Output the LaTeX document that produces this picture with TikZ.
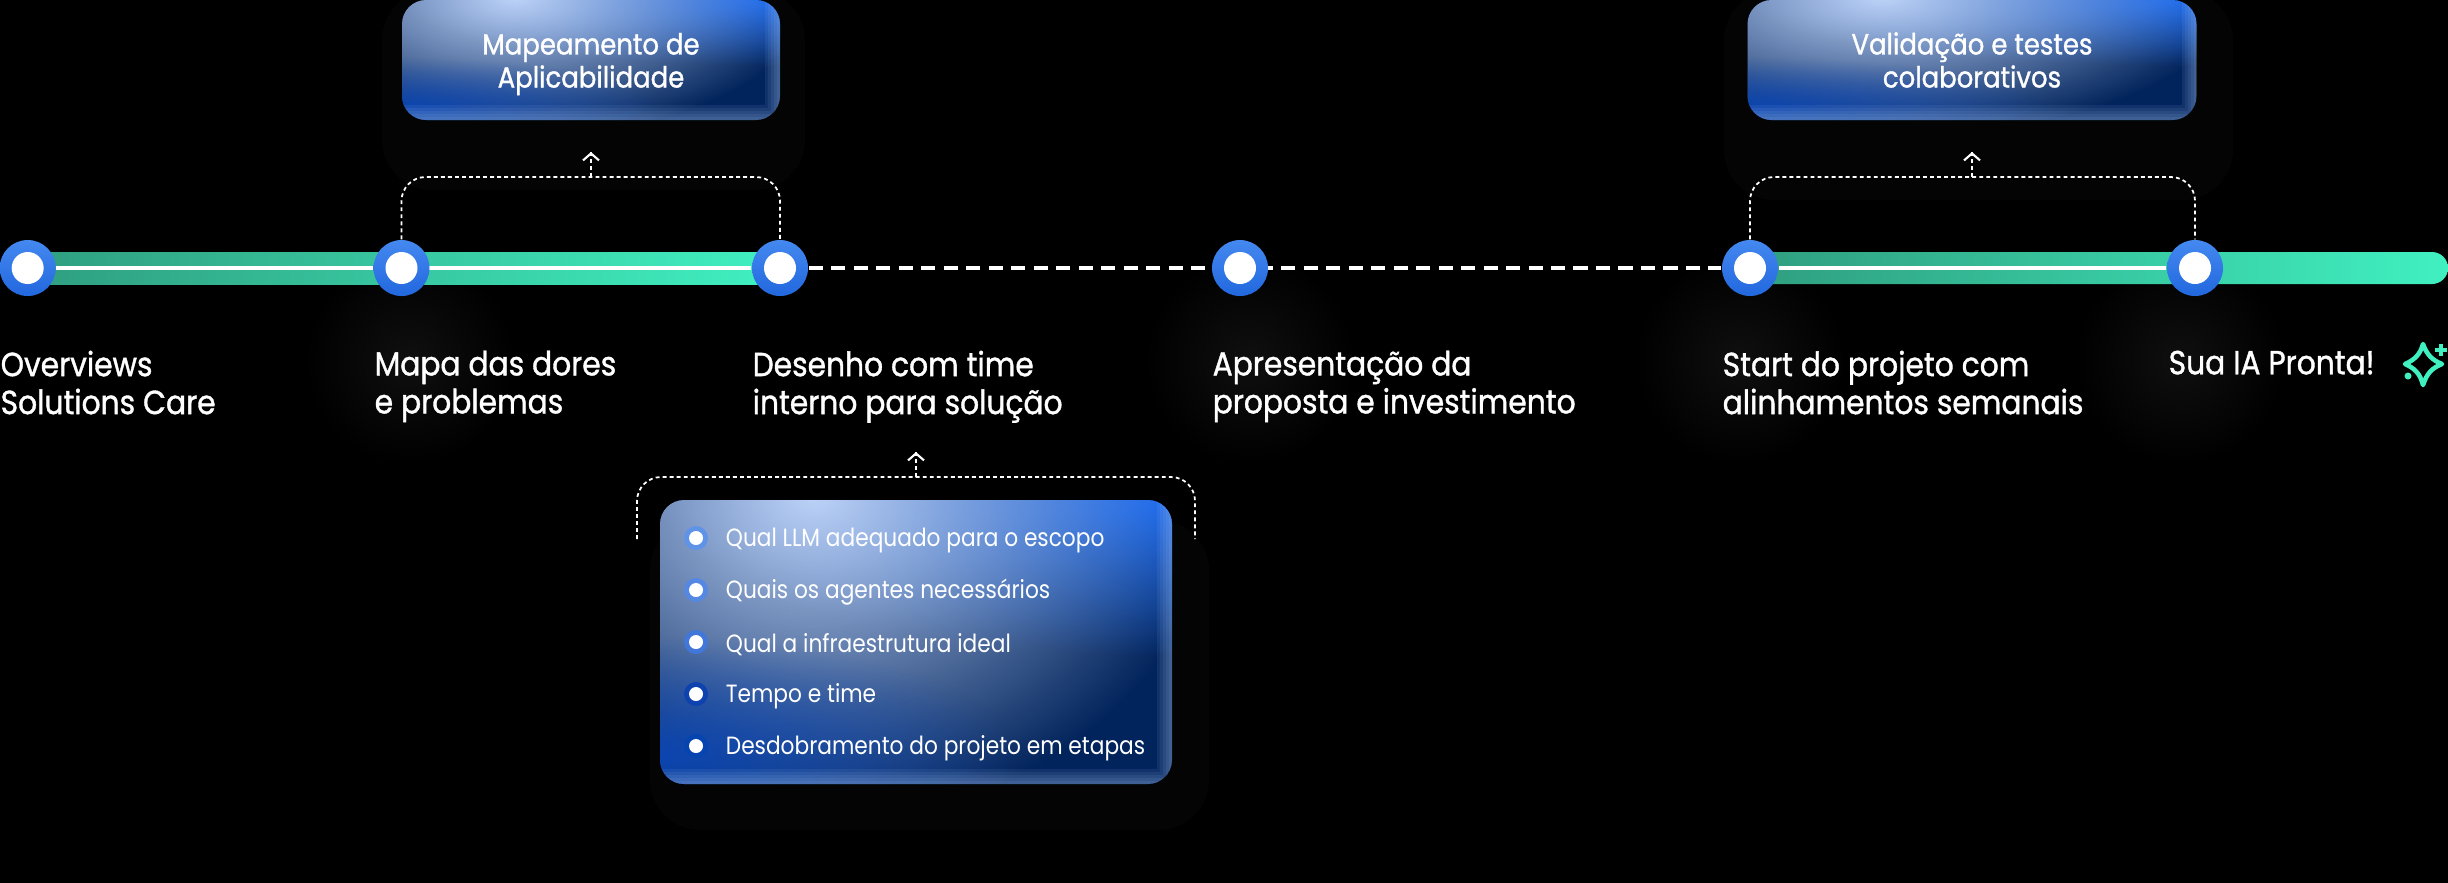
\documentclass[tikz,border=0pt]{standalone}
\usepackage{fontspec}
\setmainfont{Poppins}[FakeStretch=.87]
\newfontfamily\labelfont{Poppins}[FakeStretch=.89,FakeBold=1.1]
\usetikzlibrary{positioning,calc,arrows.meta,backgrounds,fadings}

\definecolor{navy}{HTML}{02245C}
\definecolor{skyblue}{HTML}{0A5FEE}
\definecolor{lowblue}{HTML}{0A48BC}
\definecolor{glasslight}{HTML}{BDD3F8}
\definecolor{ballblue}{HTML}{2268DE}
\definecolor{ballsoft}{HTML}{4488F0}
\definecolor{minttop}{HTML}{40F0C0}
\definecolor{mintlow}{HTML}{2F9E80}
\definecolor{mintmid}{HTML}{38C4A0}
\definecolor{ringa}{HTML}{5F93E8}
\definecolor{ringb}{HTML}{5488E2}
\definecolor{ringc}{HTML}{4277DA}
\definecolor{ringd}{HTML}{0E42AE}
\definecolor{ringe}{HTML}{0645B0}

\tikzfading[name=softblob,inner color=transparent!0,outer color=transparent!100]

\tikzset{
  stop/.style={circle,inner sep=0,minimum size=.56cm,top color=ballsoft,bottom color=ballblue,
    path picture={\fill[white] (path picture bounding box.center) circle (.16);}},
  bullet/.style={circle,inner sep=0,minimum size=.24cm,fill=#1,
    path picture={\fill[white] (path picture bounding box.center) circle (.07);}},
  steptext/.style={anchor=north west,inner sep=0,align=left,white,font=\labelfont\fontsize{9.5}{10.8}\selectfont},
  boxtext/.style={inner sep=0,align=center,white,font=\labelfont\fontsize{8.3}{9.4}\selectfont},
  itemtext/.style={inner sep=0,white,yshift=-.025cm,font=\fontsize{7.1}{8}\selectfont},
  bracket/.style={white,line width=.5pt,dash pattern=on 1.1pt off .9pt,rounded corners=.24cm},
  upnote/.style={white,line width=.5pt,dash pattern=on 1.1pt off .9pt},
  uptip/.style={white,line width=.6pt,-{Straight Barb[length=.07cm,width=.16cm]}},
  glassbox/.style 2 args={rounded corners=.24cm,inner sep=0,minimum width=#1cm,minimum height=#2cm,
    path picture={
      \coordinate (nw) at (path picture bounding box.north west);
      \coordinate (se) at (path picture bounding box.south east);
      \coordinate (ne) at (path picture bounding box.north east);
      \coordinate (sw) at (path picture bounding box.south west);
      \fill[navy] (nw) rectangle (se);
      % blue in the upper right
      \fill[skyblue,path fading=softblob] (ne) ellipse (#1*1 and #2*.55);
      % the light
      \fill[glasslight,path fading=softblob] ($(nw)!.3!(ne)+(0,#2*.02)$) ellipse (#1*.78 and #2*1.15);
      % blue in the lower left
      \fill[lowblue,opacity=.85,path fading=softblob] ($(sw)+(0,#2*.1)$) ellipse (#1*.7 and #2*.42);
      % lit edge
      \foreach \w in {.06,.12,.18,.24,.30}
        \draw[white!55!ballsoft,opacity=.09,line width=\w cm,sharp corners]
          (ne) -- (se) -- (sw);
    }}
}

\begin{document}
\begin{tikzpicture}
  \useasboundingbox (0,0) rectangle (24.48,-8.82);
  % Stops on the line
  \node[stop] (n1) at (.277,-2.68) {};
  \node[stop] (n2) at (4.015,-2.68) {};
  \node[stop] (n3) at (7.8,-2.68) {};
  \node[stop] (n4) at (12.4,-2.68) {};
  \node[stop] (n5) at (17.5,-2.68) {};
  \node[stop] (n6) at (21.95,-2.68) {};
  \coordinate (lineend) at (24.48,-2.68);
  % Labels under the stops
  \node[steptext] (l1) at (0,-3.5) {Overviews\\Solutions Care};
  \node[steptext] (l2) at (3.74,-3.5) {Mapa das dores\\e problemas};
  \node[steptext] (l3) at (7.52,-3.5) {Desenho com time\\interno para solução};
  \node[steptext] (l4) at (12.12,-3.5) {Apresentação da\\proposta e investimento};
  \node[steptext] (l5) at (17.22,-3.5) {Start do projeto com\\alinhamentos semanais};
  \node[steptext] (l6) at (21.68,-3.5) {Sua IA Pronta!};
  % Boxes
  \node[glassbox={3.78}{1.2}] (b1) at (5.91,-.6) {};
  \node[glassbox={4.49}{1.2}] (b2) at (19.72,-.6) {};
  \node[glassbox={5.12}{2.84}] (b3) at (9.16,-6.42) {};
  \node[boxtext,yshift=-.04cm] (h1) at (b1) {Mapeamento de\\Aplicabilidade};
  \node[boxtext] (h2) at (b2) {Validação e testes\\colaborativos};
  % List in the lower box
  \node[bullet=ringa] (q1) at (6.96,-5.38) {};
  \node[bullet=ringb] (q2) at (6.96,-5.9) {};
  \node[bullet=ringc] (q3) at (6.96,-6.42) {};
  \node[bullet=ringd] (q4) at (6.96,-6.94) {};
  \node[bullet=ringe] (q5) at (6.96,-7.46) {};
  \node[itemtext,right=.165 of q1] (t1) {Qual LLM adequado para o escopo};
  \node[itemtext,right=.165 of q2] (t2) {Quais os agentes necessários};
  \node[itemtext,right=.165 of q3] (t3) {Qual a infraestrutura ideal};
  \node[itemtext,right=.165 of q4] (t4) {Tempo e time};
  \node[itemtext,right=.165 of q5] (t5) {Desdobramento do projeto em etapas};
  % Dotted brackets
  \coordinate (top1) at (5.91,-1.77);
  \coordinate (tip1) at (5.91,-1.52);
  \draw[bracket] (n2.north) |- (top1) -| (n3.north);
  \draw[upnote] (top1) -- (tip1);
  \draw[uptip] ($(tip1)+(0,-.02)$) -- (tip1);
  \coordinate (top2) at (19.72,-1.77);
  \coordinate (tip2) at (19.72,-1.52);
  \draw[bracket] (n5.north) |- (top2) -| (n6.north);
  \draw[upnote] (top2) -- (tip2);
  \draw[uptip] ($(tip2)+(0,-.02)$) -- (tip2);
  \coordinate (top3) at (9.16,-4.77);
  \coordinate (tip3) at (9.16,-4.52);
  \coordinate (foot3a) at (6.37,-5.39);
  \coordinate (foot3b) at (11.95,-5.39);
  \draw[bracket] (foot3a) |- (top3) -| (foot3b);
  \draw[upnote] (top3) -- (tip3);
  \draw[uptip] ($(tip3)+(0,-.02)$) -- (tip3);
  % Sparkle after the last label
  \draw[minttop,line width=1.3pt,line join=round] (24.23,-3.44) .. controls (24.27,-3.55) and (24.32,-3.6) .. (24.42,-3.64)
    .. controls (24.32,-3.68) and (24.27,-3.73) .. (24.23,-3.85)
    .. controls (24.2,-3.73) and (24.14,-3.68) .. (24.05,-3.64)
    .. controls (24.14,-3.6) and (24.2,-3.55) .. (24.23,-3.44) -- cycle;
  \draw[minttop,line width=1.1pt] (24.35,-3.5) -- (24.47,-3.5) (24.41,-3.44) -- (24.41,-3.56);
  \fill[minttop] (24.08,-3.76) circle (.035);
  \begin{scope}[on background layer]
    \fill[black] (-.1,.1) rectangle (24.6,-8.95);
    % Faint halos
    \fill[black!98.5!white,rounded corners=.5cm] (3.82,.1) rectangle (8.05,-1.9);
    \fill[black!98.5!white,rounded corners=.5cm] (17.24,.1) rectangle (22.33,-2);
    \fill[black!98.5!white,rounded corners=.5cm] (6.5,-5.2) rectangle (12.09,-8.3);
    \shade[inner color=black!94!white,outer color=black] (4.1,-3.6) circle (1.05);
    \shade[inner color=black!94!white,outer color=black] (12.5,-3.6) circle (1.05);
    \shade[inner color=black!94!white,outer color=black] (17.4,-3.6) circle (1.05);
    \shade[inner color=black!94!white,outer color=black] (21.8,-3.6) circle (1.05);
    % The line
    \shade[left color=mintlow,right color=minttop] ($(n1)+(0,.16)$) rectangle ($(n3)+(0,-.16)$);
    \shade[left color=mintlow,middle color=mintmid,right color=minttop,rounded corners=.16cm]
      ($(n5)+(0,.16)$) rectangle ($(lineend)+(0,-.16)$);
    \draw[white,line width=1.3pt] (n1) -- (n3);
    \draw[white,line width=1.3pt] (n5) -- (n6);
    \draw[white,line width=1.3pt,dash pattern=on 4pt off 2.4pt] (n3) -- (n5);
  \end{scope}
\end{tikzpicture}
\end{document}
